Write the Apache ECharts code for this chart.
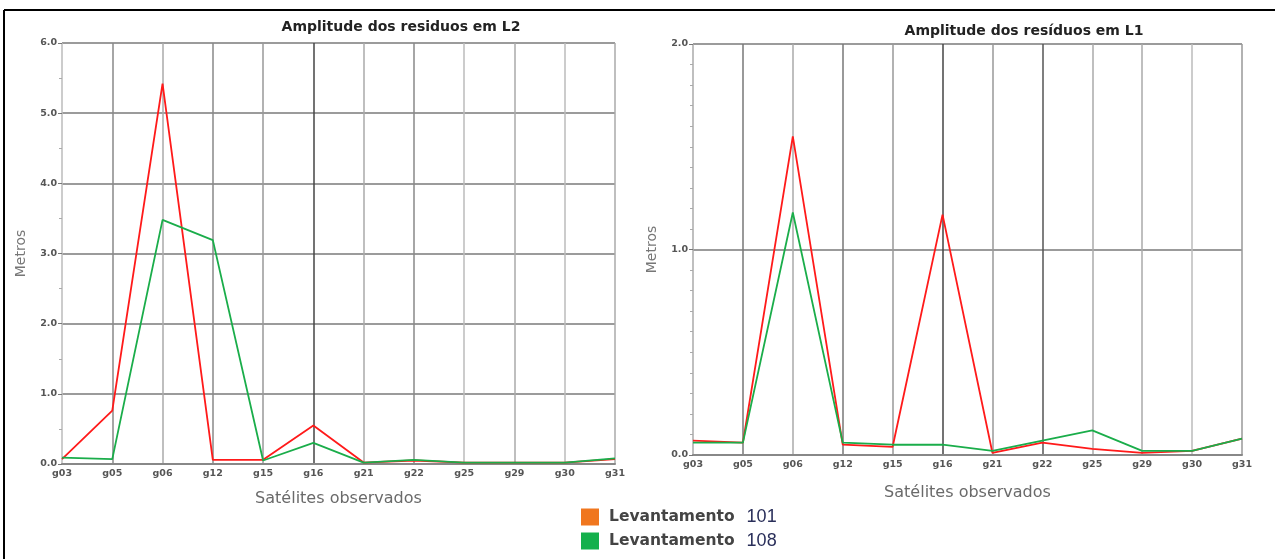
<!DOCTYPE html>
<html>
<head>
<meta charset="utf-8">
<script src="https://cdn.jsdelivr.net/npm/echarts@6/dist/echarts.min.js"></script>
<style>html,body{margin:0;padding:0;background:#fff;}#c{width:1275px;height:559px;}</style>
</head>
<body>
<div id="c"></div>
<script>
const categories = ['g03','g05','g06','g12','g15','g16','g21','g22','g25','g29','g30','g31'];
const l2Lev101 = [0.07, 0.76, 5.42, 0.06, 0.06, 0.55, 0.02, 0.05, 0.02, 0.02, 0.02, 0.07];
const l2Lev108 = [0.09, 0.07, 3.48, 3.19, 0.05, 0.30, 0.02, 0.06, 0.02, 0.02, 0.02, 0.08];
const l1Lev101 = [0.07, 0.06, 1.55, 0.05, 0.04, 1.17, 0.01, 0.06, 0.03, 0.01, 0.02, 0.08];
const l1Lev108 = [0.06, 0.06, 1.18, 0.06, 0.05, 0.05, 0.02, 0.07, 0.12, 0.02, 0.02, 0.08];
const seriesNames = ['Levantamento 101', 'Levantamento 108'];
const legendColors = ['#f0761e', '#14b04c'];
const titles = ['Amplitude dos residuos em L2', 'Amplitude dos resíduos em L1'];

const chart = echarts.init(document.getElementById('c'), null, {renderer: 'canvas'});

function xAxisCfg(gi, gap, splitColors) {
  return {
    type: 'category', gridIndex: gi, data: categories, boundaryGap: false,
    name: 'Satélites observados', nameLocation: 'middle', nameGap: gap,
    nameTextStyle: {color: '#6a6a6a', fontSize: 16, fontFamily: 'DejaVu Sans'},
    axisLine: {show: true, lineStyle: {color: '#888', width: 2}},
    axisTick: {show: false},
    axisLabel: {color: '#555', fontSize: 9.5, fontWeight: 'bold', margin: 5, fontFamily: 'DejaVu Sans'},
    splitLine: {show: true, lineStyle: {color: splitColors, width: 1.5}}
  };
}
function yAxisCfg(gi, max, minorSplit, gap) {
  return {
    type: 'value', gridIndex: gi, min: 0, max: max, interval: 1,
    name: 'Metros', nameLocation: 'middle', nameRotate: 90, nameGap: gap,
    nameTextStyle: {color: '#777', fontSize: 14, fontFamily: 'DejaVu Sans'},
    axisLine: {show: false},
    axisTick: {show: true, length: 4, lineStyle: {color: '#777'}},
    minorTick: {show: true, splitNumber: minorSplit, length: 3, lineStyle: {color: '#aaa'}},
    axisLabel: {color: '#555', fontSize: 9.5, fontWeight: 'bold', margin: 5, fontFamily: 'DejaVu Sans',
      formatter: v => v.toFixed(1)},
    splitLine: {show: true, lineStyle: {color: '#7a7a7a', width: 1.5}}
  };
}
function lineSeries(name, data, gi, color) {
  return {
    name: name, type: 'line', xAxisIndex: gi, yAxisIndex: gi, data: data,
    showSymbol: false, symbol: 'none', animation: false,
    lineStyle: {color: color, width: 1.8}, itemStyle: {color: color}
  };
}
function legendCfg(i, top) {
  return {
    orient: 'horizontal', left: 581, top: top, itemWidth: 18, itemHeight: 17, padding: 0,
    icon: 'rect', selectedMode: false,
    data: [{name: seriesNames[i], itemStyle: {color: legendColors[i]}}],
    formatter: function (n) {
      const p = n.split(' ');
      return '{a|' + p[0] + '}{b|' + p[1] + '}';
    },
    textStyle: {
      rich: {
        a: {fontSize: 15.5, fontWeight: 'bold', color: '#444', fontFamily: 'DejaVu Sans', padding: [0, 0, 0, 5]},
        b: {fontSize: 18, color: '#2a2f5a', fontFamily: 'Liberation Sans', padding: [0, 0, 0, 12]}
      }
    }
  };
}

chart.setOption({
  animation: false,
  backgroundColor: '#fff',
  title: [
    {text: titles[0], left: 396, top: 15, textAlign: 'center',
     textStyle: {fontSize: 14, fontWeight: 'bold', color: '#222', fontFamily: 'DejaVu Sans'}},
    {text: titles[1], left: 1019, top: 19, textAlign: 'center',
     textStyle: {fontSize: 14, fontWeight: 'bold', color: '#222', fontFamily: 'DejaVu Sans'}}
  ],
  grid: [
    {left: 62, right: 660, top: 43, bottom: 95, containLabel: false},
    {left: 693, right: 33, top: 44, bottom: 104, containLabel: false}
  ],
  xAxis: [
    xAxisCfg(0, 27, ['#bbb','#888','#aaa','#888','#999','#444','#aaa','#888','#bbb','#aaa','#bbb','#aaa']),
    xAxisCfg(1, 30, ['#aaa','#777','#aaa','#777','#999','#444','#999','#555','#aaa','#aaa','#bbb','#999'])
  ],
  yAxis: [yAxisCfg(0, 6, 2, 34), yAxisCfg(1, 2, 10, 34)],
  legend: [legendCfg(0, 508), legendCfg(1, 532)],
  graphic: [
    {type: 'line', shape: {x1: 4, y1: 10, x2: 1275, y2: 10}, style: {stroke: '#000', lineWidth: 2}},
    {type: 'line', shape: {x1: 4, y1: 10, x2: 4, y2: 559}, style: {stroke: '#000', lineWidth: 2}}
  ],
  series: [
    lineSeries(seriesNames[0], l2Lev101, 0, '#ff1a1a'),
    lineSeries(seriesNames[1], l2Lev108, 0, '#1aad4a'),
    lineSeries(seriesNames[0], l1Lev101, 1, '#ff1a1a'),
    lineSeries(seriesNames[1], l1Lev108, 1, '#1aad4a')
  ]
});
</script>
</body>
</html>
